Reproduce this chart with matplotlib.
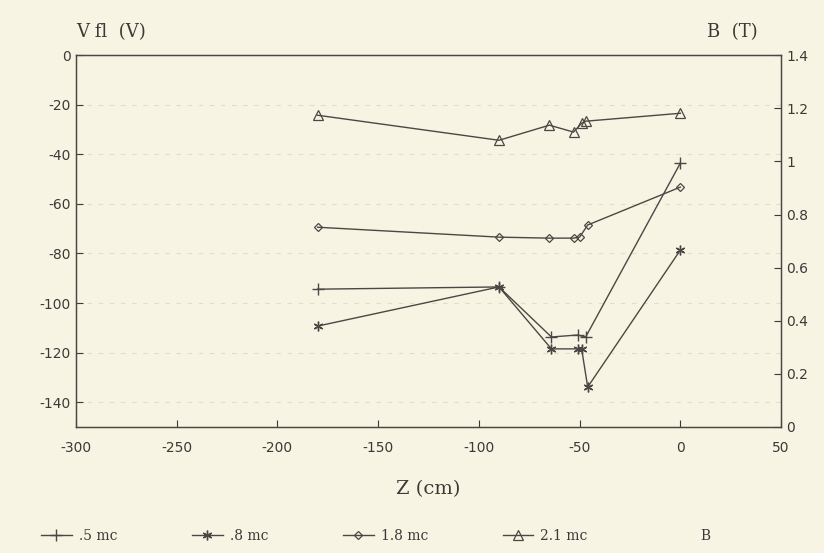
import matplotlib.pyplot as plt
import numpy as np

plt.rcParams['axes.unicode_minus'] = False

# data
z_05 = [-180, -90, -64, -51, -47, 0]
v_05 = [-94.4, -93.5, -113.7, -112.9, -113.7, -43.5]

z_08 = [-180, -90, -64, -51, -49, -46, 0]
v_08 = [-109.3, -93.5, -118.5, -118.5, -118.5, -133.9, -78.6]

z_18 = [-180, -90, -65, -53, -50, -46, 0]
v_18 = [-69.4, -73.4, -73.8, -73.8, -73.4, -68.5, -53.2]

z_21 = [-180, -90, -65, -53, -49, -47, 0]
v_21 = [-24.2, -34.3, -28.2, -31.0, -27.4, -26.6, -23.4]

x_ticks = [-300, -250, -200, -150, -100, -50, 0, 50]
v_ticks = [0, -20, -40, -60, -80, -100, -120, -140]
b_ticks = [0, 0.2, 0.4, 0.6, 0.8, 1.0, 1.2, 1.4]
b_labels = ['0', '0.2', '0.4', '0.6', '0.8', '1', '1.2', '1.4']

bg = '#f8f4e4'
ink = '#3c3a36'
line_c = '#4a4844'

fig = plt.figure(figsize=(8.24, 5.53), dpi=100, facecolor=bg)
ax = fig.add_axes([0.092, 0.228, 0.856, 0.672], facecolor=bg)

ax.plot(z_05, v_05, color=line_c, lw=1.0, marker='+', ms=8, mew=1.0, label='.5 mc')
ax.plot(z_08, v_08, color=line_c, lw=1.0, marker=(6, 2, 0), ms=7, mew=1.0, label='.8 mc')
ax.plot(z_18, v_18, color=line_c, lw=1.0, marker='D', ms=4.5, mfc='none', mew=0.9, label='1.8 mc')
ax.plot(z_21, v_21, color=line_c, lw=1.0, marker='^', ms=6.5, mfc='none', mew=0.9, label='2.1 mc')
ax.plot([], [], linestyle='none', label='B')

ax.set_xlim(-300, 50)
ax.set_ylim(-150, 0)
ax.set_xticks(x_ticks)
ax.set_yticks(v_ticks)
ax.tick_params(axis='both', direction='in', length=5, color=ink, labelcolor=ink, labelsize=10)
ax.tick_params(axis='x', pad=10)
for y in v_ticks[1:]:
    ax.axhline(y, color='#e2ddc9', lw=0.8, ls=(0, (4, 6)), zorder=0)
for s in ax.spines.values():
    s.set_color(line_c)
    s.set_linewidth(1.0)

ax2 = ax.twinx()
ax2.set_ylim(0, 1.4)
ax2.set_yticks(b_ticks)
ax2.set_yticklabels(b_labels)
ax2.tick_params(axis='y', direction='in', length=5, color=ink, labelcolor=ink, labelsize=10)
for s in ax2.spines.values():
    s.set_color(line_c)

serif = 'DejaVu Serif'
fig.text(0.093, 0.925, 'V fl  (V)', family=serif, fontsize=13, color=ink, ha='left', va='bottom')
fig.text(0.92, 0.925, 'B  (T)', family=serif, fontsize=13, color=ink, ha='right', va='bottom')
ax.set_xlabel('Z (cm)', family=serif, fontsize=14, color=ink, labelpad=18)

fig.legend(loc='lower center', bbox_to_anchor=(0.456, -0.005), ncol=5, frameon=False,
           prop={'family': serif, 'size': 10}, labelcolor=ink, handlelength=2.2,
           columnspacing=5.4, handletextpad=0.5)

fig.savefig('out.png', dpi=100, facecolor=bg)
